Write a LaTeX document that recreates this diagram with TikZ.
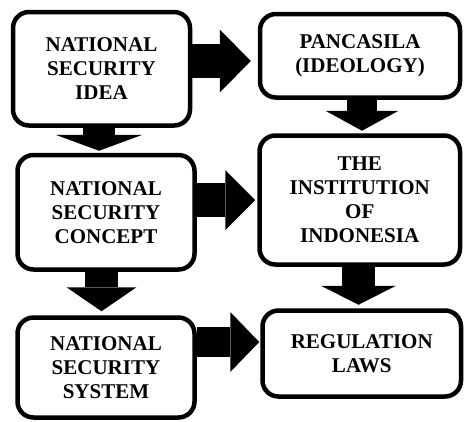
\documentclass[tikz,border=0pt]{standalone}
\usepackage{fontspec}
\setmainfont{Liberation Serif}
\usetikzlibrary{arrows.meta}
\tikzset{
	box/.style = {draw, line width = 4.5pt, rounded corners = 16pt, inner sep = 0pt, align = center,
		font = \fontsize{21}{24}\selectfont\bfseries},
	fat/.style n args = {3}{line width = #1, -{Triangle[width = #2, length = #3, line width = 0pt]}}
}

\begin{document}
\begin{tikzpicture}[x = 1pt, y = -1pt]
		\useasboundingbox (0,0) rectangle (465,421);
		% left column
		\node (idea)[box, minimum width = 177pt, minimum height = 113.5pt] at (101.5,68.75) {NATIONAL\\SECURITY\\IDEA};
		\node (concept)[box, minimum width = 177pt, minimum height = 114.5pt] at (106,212.25) {NATIONAL\\SECURITY\\CONCEPT};
		\node (system)[box, minimum width = 177pt, minimum height = 100pt] at (106,367.5) {NATIONAL\\SECURITY\\SYSTEM};
		%
		% right column
		\node (pancasila)[box, minimum width = 200pt, minimum height = 83.5pt] at (360,55.75) {PANCASILA\\(IDEOLOGY)};
		\node (institution)[box, minimum width = 200.5pt, minimum height = 129pt] at (359.75,200) {THE\\INSTITUTION\\OF\\INDONESIA};
		\node (laws)[box, minimum width = 198.5pt, minimum height = 86pt] at (361.75,353.5) {REGULATION\\LAWS};
		%
		% horizontal arrows
		\draw[fat = {34pt}{63pt}{31pt}, shorten > = 7pt] ([yshift = 7.75pt]idea.east) -- ([yshift = 7.75pt]idea.east -| pancasila.west);
		\draw[fat = {34pt}{60pt}{30pt}, shorten > = 2pt] ([yshift = 12.25pt]concept.east) -- ([yshift = 12.25pt]concept.east -| institution.west);
		\draw[fat = {30pt}{60pt}{29pt}, shorten > = 1pt] ([yshift = 25.5pt]system.east) -- ([yshift = 25.5pt]system.east -| laws.west);
		%
		% vertical arrows
		\draw[fat = {32pt}{87pt}{16pt}, shorten > = 2pt] ([xshift = -2.5pt]idea.south) -- ([xshift = -2.5pt]idea.south |- concept.north);
		\draw[fat = {33pt}{70pt}{24pt}, shorten > = 4pt] ([xshift = -4.5pt]concept.south) -- ([xshift = -4.5pt]concept.south |- system.north);
		\draw[fat = {30pt}{73pt}{20pt}, shorten > = 2.5pt] ([xshift = 2pt]pancasila.south) -- ([xshift = 2pt]pancasila.south |- institution.north);
		\draw[fat = {33pt}{75pt}{19pt}, shorten > = 3.5pt] ([xshift = -1.25pt]institution.south) -- ([xshift = -1.25pt]institution.south |- laws.north);
	\end{tikzpicture}
\end{document}
